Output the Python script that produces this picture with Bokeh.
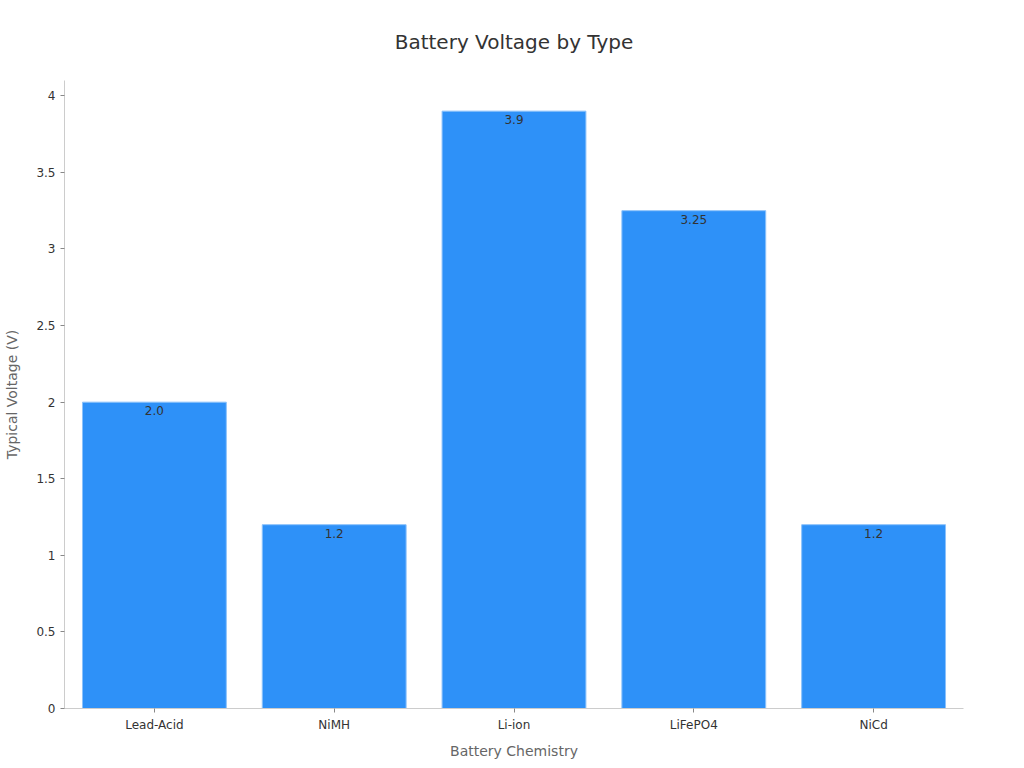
from bokeh.plotting import figure
from bokeh.models import ColumnDataSource, LabelSet, Range1d, FixedTicker
from bokeh.embed import file_html
from bokeh.resources import INLINE
from bokeh.core.properties import value

categories = ["Lead-Acid", "NiMH", "Li-ion", "LiFePO4", "NiCd"]
voltages = [2.0, 1.2, 3.9, 3.25, 1.2]
bar_labels = ["2.0", "1.2", "3.9", "3.25", "1.2"]
y_ticks = [0, 0.5, 1, 1.5, 2, 2.5, 3, 3.5, 4]

FONT = "DejaVu Sans"

src = ColumnDataSource(dict(cat=categories, v=voltages, lab=bar_labels))

p = figure(x_range=categories, y_range=Range1d(0, 4.1),
           width=1024, height=768, output_backend="svg", toolbar_location=None,
           min_border_left=64, min_border_right=61, min_border_top=80, min_border_bottom=60)
p.x_range.range_padding = 0

p.title.text = "Battery Voltage by Type"
p.title.align = "center"
p.title.text_font = FONT
p.title.text_font_size = "20px"
p.title.text_font_style = "normal"
p.title.text_color = "#333333"
p.title.standoff = 54

p.vbar(x="cat", top="v", width=0.8, source=src, fill_color="#2E91F8",
       line_color="#8CC2FB", line_width=1)

labels = LabelSet(x="cat", y="v", text="lab", source=src, text_align="center",
                  text_baseline="top", y_offset=-4, text_font_size="12px",
                  text_color="#333333", text_font=value(FONT))
p.add_layout(labels)

p.xgrid.grid_line_color = None
p.ygrid.grid_line_color = None
p.outline_line_color = None

for ax in (p.xaxis[0], p.yaxis[0]):
    ax.axis_line_color = "#cccccc"
    ax.major_tick_line_color = "#888888"
    ax.minor_tick_line_color = None
    ax.major_label_text_font = FONT
    ax.major_label_text_font_size = "12px"
    ax.major_label_text_color = "#333333"
    ax.axis_label_text_font = FONT
    ax.axis_label_text_font_size = "14px"
    ax.axis_label_text_color = "#666666"
    ax.axis_label_text_font_style = "normal"
    ax.major_tick_in = 0
    ax.major_tick_out = 4

p.yaxis[0].ticker = FixedTicker(ticks=y_ticks)
p.yaxis[0].major_label_overrides = {0: "0", 1: "1", 2: "2", 3: "3", 4: "4"}
p.yaxis[0].axis_label = "Typical Voltage (V)"
p.xaxis[0].axis_label = "Battery Chemistry"
p.yaxis[0].axis_label_standoff = 13
p.xaxis[0].axis_label_standoff = 8

open("out.html", "w").write(file_html(p, INLINE))
